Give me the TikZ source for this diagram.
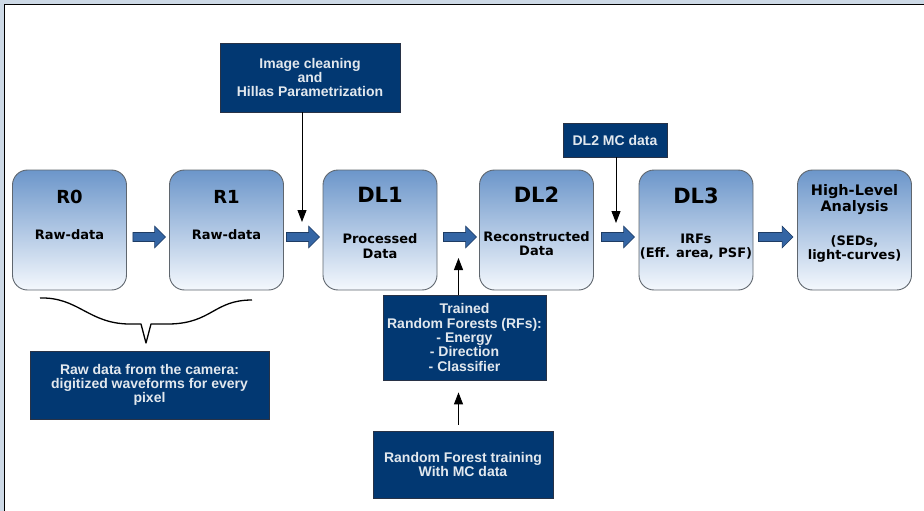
\documentclass[tikz,border=0pt]{standalone}
\usepackage{fontspec}
\setmainfont{Liberation Sans}
\newfontfamily\dejavu{DejaVu Sans}
\usetikzlibrary{arrows.meta,calc}

\definecolor{navy}{RGB}{2,56,114}
\definecolor{navyedge}{RGB}{40,50,70}
\definecolor{navytext}{RGB}{226,232,238}
\definecolor{gradtop}{RGB}{108,150,202}
\definecolor{gradbot}{RGB}{244,248,253}
\definecolor{stageedge}{RGB}{95,102,110}
\definecolor{arrowblue}{RGB}{52,101,164}
\definecolor{arrowedge}{RGB}{30,60,100}
\definecolor{band}{RGB}{205,217,230}

\begin{document}
\begin{tikzpicture}[x=1pt,y=-1pt,
  stage/.style={draw=stageedge, line width=0.9pt, rounded corners=15pt,
    top color=gradtop, bottom color=gradbot,
    minimum width=114pt, minimum height=120pt, inner sep=0pt},
  title/.style={font=\dejavu\bfseries\fontsize{#1}{#1}\selectfont, inner sep=0pt},
  sub/.style={font=\dejavu\bfseries\fontsize{13}{14.5}\selectfont, align=center, inner sep=0pt},
  darkbox/.style={draw=navyedge, line width=0.8pt, fill=navy, text=navytext,
    font=\bfseries\fontsize{14}{14.3}\selectfont, align=center, inner sep=0pt},
  blk/.style={draw=arrowedge, fill=arrowblue, line width=0.6pt,
    to path={let \p1=(\tikztostart), \p2=(\tikztotarget) in
      (\x1,\y1+4.5pt) -- (\x2-11pt,\y1+4.5pt) -- (\x2-11pt,\y1+11pt) -- (\x2,\y1)
      -- (\x2-11pt,\y1-11pt) -- (\x2-11pt,\y1-4.5pt) -- (\x1,\y1-4.5pt) -- cycle}},
  feed/.style={draw=black, line width=1pt, -{Triangle[length=12pt,width=9pt]}}]

% page frame
\useasboundingbox (0,0) rectangle (924,511);
\fill[white] (0,0) rectangle (924,511);
\fill[band] (0,0) rectangle (924,4);
\fill[band] (0,0) rectangle (4,511);
\draw[black, line width=1.5pt] (4.5,511) -- (4.5,4.5) -- (924,4.5);

% processing stages
\node[stage] (r0)  at (69.5,230) {};
\node[stage] (r1)  at (226.5,230) {};
\node[stage] (dl1) at (380,230) {};
\node[stage] (dl2) at (536.5,230) {};
\node[stage] (dl3) at (696,230) {};
\node[stage] (hla) at (854.5,230) {};

\node[title=18] (r0t)  at (69.5,197) {R0};
\node[sub]      (r0s)  at (69.5,235) {Raw-data};
\node[title=18] (r1t)  at (226.5,197) {R1};
\node[sub]      (r1s)  at (226.5,235) {Raw-data};
\node[title=21] (dl1t) at (380,195) {DL1};
\node[sub]      (dl1s) at (380,246) {Processed\\Data};
\node[title=21] (dl2t) at (536.5,195) {DL2};
\node[sub]      (dl2s) at (536.5,243.5) {Reconstructed\\Data};
\node[title=21] (dl3t) at (696,196) {DL3};
\node[sub]      (dl3s) at (696,246.5) {IRFs\\(Eff. area, PSF)};
\node[sub, font=\dejavu\bfseries\fontsize{14.5}{15.5}\selectfont] (hlat) at (854.5,199.5) {High-Level\\Analysis};
\node[sub]      (hlas) at (854.5,249) {(SEDs,\\light-curves)};

% block arrows between stages
\path[blk] ([shift={(6,7)}]r0.east)  to ([shift={(-3.5,7)}]r1.west);
\path[blk] ([shift={(2.5,7)}]r1.east) to ([shift={(-3,7)}]dl1.west);
\path[blk] ([shift={(6,7)}]dl1.east) to ([shift={(-2.5,7)}]dl2.west);
\path[blk] ([shift={(7.5,7)}]dl2.east) to ([shift={(-4,7)}]dl3.west);
\path[blk] ([shift={(5,7)}]dl3.east) to ([shift={(-4,7)}]hla.west);

% inputs
\node[darkbox, minimum width=180pt, minimum height=69pt] (img) at (310,77.5)
  {Image cleaning\\and\\Hillas Parametrization};
\node[darkbox, minimum width=104pt, minimum height=34pt] (mc) at (615,140) {DL2 MC data};
\node[darkbox, minimum width=163pt, minimum height=85pt] (rf) at (464.5,337.5)
  {Trained\\Random Forests (RFs):\\- Energy\\- Direction\\- Classifier};
\node[darkbox, minimum width=180pt, minimum height=67pt] (rft) at (463,464.5)
  {Random Forest training\\With MC data};
\node[darkbox, minimum width=239pt, minimum height=68pt] (cam) at (149.5,385)
  {Raw data from the camera:\\digitized waveforms for every\\pixel};

\coordinate (imgend) at (302,222);
\coordinate (mcend)  at (616,223);
\coordinate (rfend)  at (458.5,258);

\draw[feed] (img.south -| imgend) -- (imgend);
\draw[feed] (mc.south -| mcend) -- (mcend);
\draw[feed] (rf.north -| rfend) -- (rfend);
\draw[feed, shorten <=6pt, shorten >=12pt] (rft.north -| rfend) -- (rf.south -| rfend);

% brace grouping R0 and R1
\coordinate (bl) at (40,298);
\coordinate (br) at (252,300);
\coordinate (btip) at (146,343);
\draw[black, line width=1.3pt, line join=round]
  (bl) .. controls (78,297) and (88,323) .. (128,324)
  -- (141,324) -- (btip) -- (151,324) -- (170,324)
  .. controls (212,323) and (214,300) .. (br);
\end{tikzpicture}
\end{document}
